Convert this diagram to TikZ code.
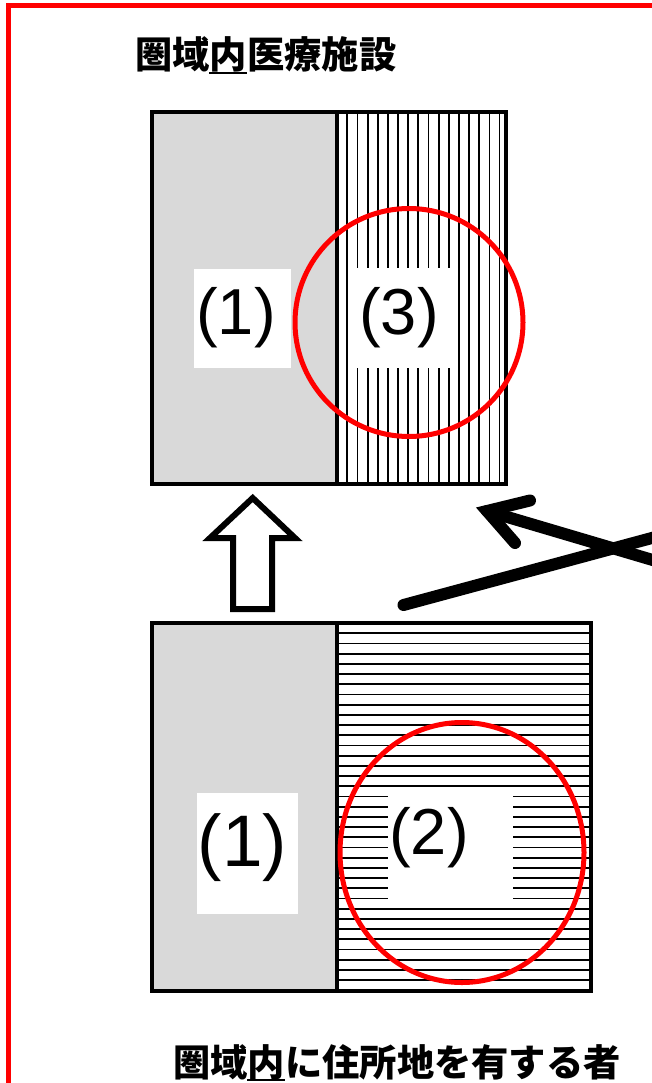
\documentclass[tikz,border=0pt]{standalone}
\usepackage{fontspec}
\setmainfont{Liberation Sans}
\newfontfamily\jp{Noto Sans CJK JP}
\definecolor{lgray}{HTML}{D9D9D9}
\begin{document}
\begin{tikzpicture}[x=1pt,y=-1pt,
  boxline/.style={line width=4pt},
  hatch/.style={line width=1.8pt},
  redring/.style={draw=red, line width=5pt},
  lbl/.style={inner sep=0pt, font=\fontsize{65}{70}\selectfont},
  biglbl/.style={inner sep=0pt, font=\fontsize{73}{78}\selectfont},
  jptext/.style={inner sep=0pt, anchor=west, font=\fontsize{37.3}{40}\selectfont\jp\bfseries},
  uline/.style={line width=2.2pt},
  thickline/.style={line width=12pt, line cap=round},
  hollowarrow/.style={line width=6pt, line join=miter, fill=white}
]
\useasboundingbox (0,0) rectangle (652,1083);
\clip (0,0) rectangle (652,1083);

% red frame
\draw[red, line width=5pt, line join=miter] (8,1100) -- (8,5.3) -- (680,5.3);

% top box
\fill[lgray] (152,112) rectangle (337,484);
\foreach \i in {0,...,15} \draw[hatch] ({347.3+10.15*\i},112) -- ({347.3+10.15*\i},484);
\fill[white] (194,269) rectangle (291,368);
\fill[white] (352,268) rectangle (455,368);
\node[lbl] (l1a) at (236,318) {(1)};
\node[lbl] (l3) at (399,317.5) {(3)};
\draw[boxline] (152,112) rectangle (506,484);
\draw[boxline] (337,112) -- (337,484);

% bottom box
\fill[lgray] (152,623) rectangle (337,991);
\foreach \i in {0,...,34} \draw[hatch] (337,{633.3+10.2*\i}) -- (591,{633.3+10.2*\i});
\fill[white] (197,793) rectangle (298,914);
\fill[white] (388,789) rectangle (513,902);
\node[biglbl] (l1b) at (242.5,847.5) {(1)};
\node[lbl] (l2) at (429,837.5) {(2)};
\draw[boxline] (152,623) rectangle (591,991);
\draw[boxline] (337,623) -- (337,991);

% red rings
\draw[redring] (409,322.5) circle [radius=114];
\draw[redring] (462,852.5) ellipse [x radius=122, y radius=130];

% hollow up arrow
\draw[hollowarrow] (252.7,498) -- (295,538) -- (272,538) -- (272,609) -- (233,609) -- (233,538) -- (210,538) -- cycle;

% thick lines
\coordinate (tip) at (487,511);
\coordinate (b1) at (530,500.5);
\coordinate (b2) at (515,543);
\coordinate (shaftEnd) at (700,574);
\coordinate (lineStart) at (403.5,605);
\coordinate (lineEnd) at (700,525);
\draw[thickline] (lineStart) -- (lineEnd);
\draw[thickline, line join=miter] (b1) -- (tip) -- (b2);
\draw[thickline] (tip) -- (shaftEnd);

% texts
\node[jptext] (title) at (135,54) {圏域内医療施設};
\draw[uline] (209,73) -- (247,73);
\node[jptext] (residents) at (173,1062) {圏域内に住所地を有する者};
\draw[uline] (247,1080) -- (285,1080);
\end{tikzpicture}
\end{document}
